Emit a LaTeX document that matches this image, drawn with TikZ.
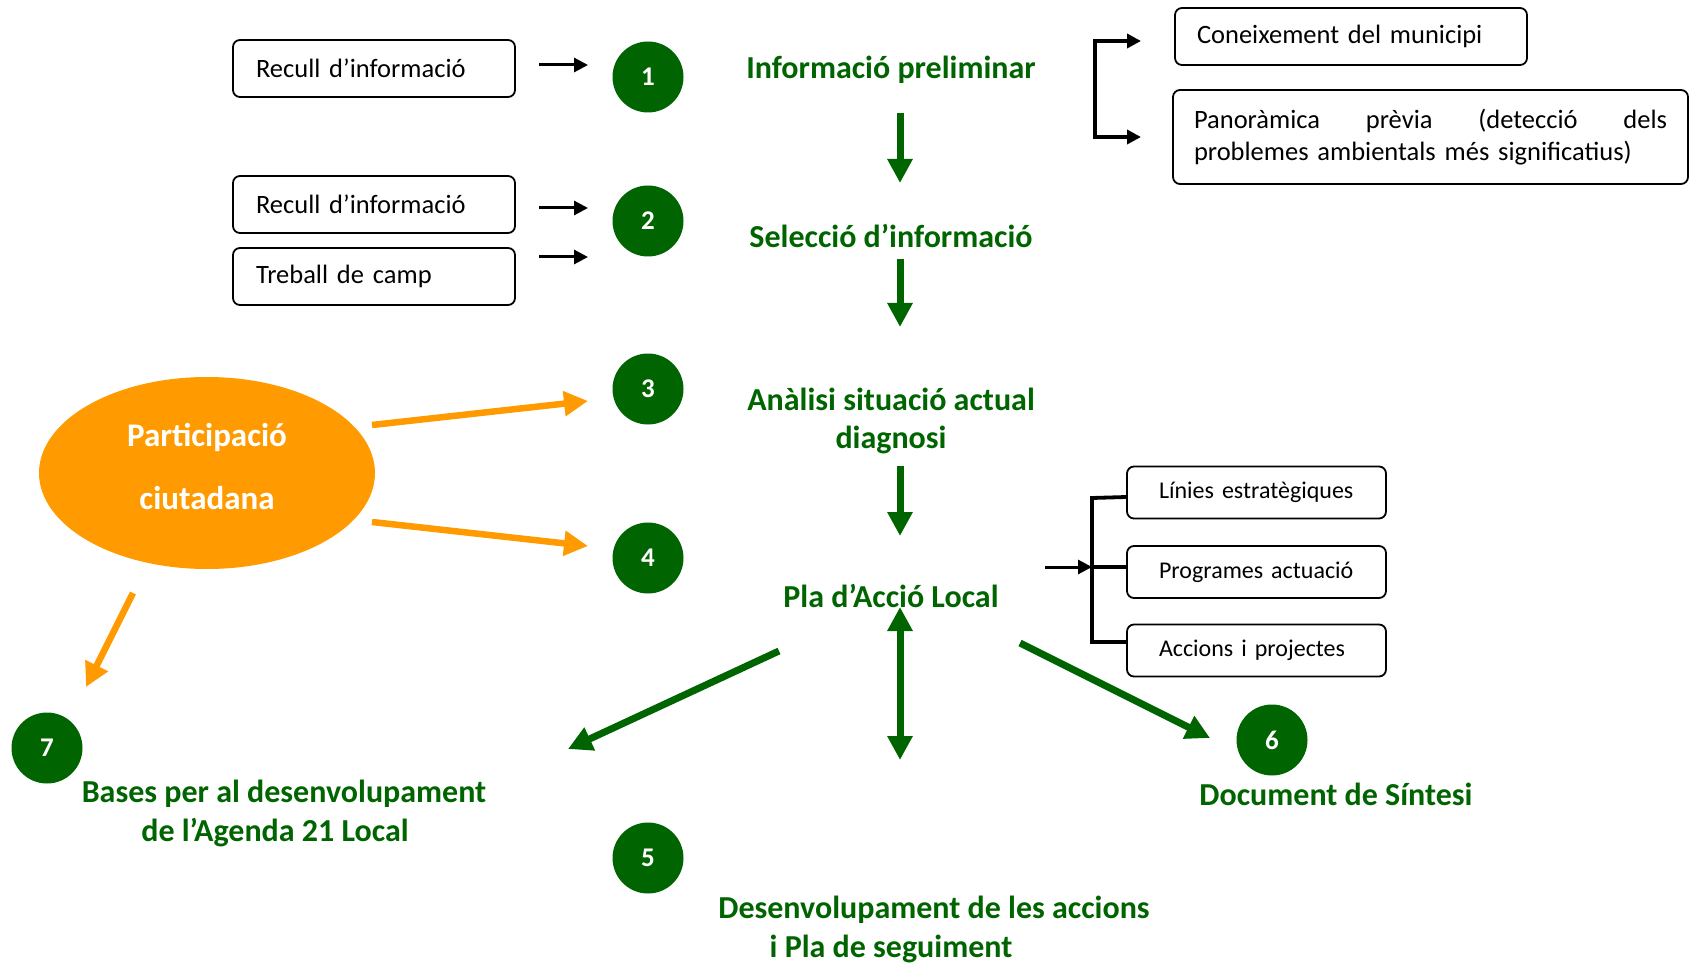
\documentclass[tikz,border=0pt]{standalone}
\usepackage{fontspec}
\setmainfont{Carlito}
\usetikzlibrary{arrows.meta,shapes.geometric}
\definecolor{dgreen}{RGB}{0,100,0}
\definecolor{orng}{RGB}{255,155,0}
\begin{document}
\begin{tikzpicture}[x=1pt,y=-1pt,
  boxA/.style={draw, line width=1.8pt, rounded corners=7pt, inner xsep=23pt, inner ysep=0pt,
     text width=236pt, minimum height=57pt, align=left, font=\fontsize{26.5}{32}\selectfont},
  boxR/.style={draw, line width=1.8pt, rounded corners=7pt, inner xsep=32pt, inner ysep=0pt,
     text width=195pt, minimum height=52pt, align=left, font=\fontsize{24}{29}\selectfont},
  circ/.style={circle, fill=dgreen, minimum size=71pt, inner sep=0pt, text=white,
     font=\fontsize{27}{32}\selectfont\bfseries},
  ttl/.style={text=dgreen, inner sep=0pt, font=\fontsize{32}{38}\selectfont\bfseries},
  barrow/.style={line width=3pt, -{Triangle[length=14pt,width=14pt]}},
  bline/.style={line width=3.8pt},
  garrow/.style={draw=dgreen, line width=7pt, -{Triangle[length=24pt,width=24pt]}},
  gdarrow/.style={draw=dgreen, line width=7pt, {Triangle[length=24pt,width=24pt]}-{Triangle[length=24pt,width=24pt]}},
  oarrow/.style={draw=orng, line width=6.5pt, -{Triangle[length=24pt,width=24pt]}}
]
\useasboundingbox (0,0) rectangle (1691,965);

% left boxes
\node[boxA] (a1) at (374,68.5) {Recull d’informació};
\node[boxA] (a2) at (374,204.5) {Recull d’informació};
\node[boxA] (a3) at (374,276.5) {Treball de camp};

% circles
\node[circ] (c1) at (648,77) {1};
\node[circ] (c2) at (648,221) {2};
\node[circ] (c3) at (648,389) {3};
\node[circ] (c4) at (648,558) {4};
\node[circ] (c5) at (648,858) {5};
\node[circ] (c6) at (1272,740) {6};
\node[circ] (c7) at (47,748) {7};

% titles
\node[ttl] (t1) at (891,70) {Informació preliminar};
\node[ttl] (t2) at (891,236) {Selecció d’informació};
\node[ttl, align=center] (t3) at (891,421) {Anàlisi situació actual\\diagnosi};
\node[ttl] (t4) at (891,596) {Pla d’Acció Local};
\node[ttl] (t6) at (1336,794) {Document de Síntesi};
\node[ttl] (t7a) at (284,794) {Bases per al desenvolupament};
\node[ttl] (t7b) at (275,833) {de l’Agenda 21 Local};
\node[ttl] (t5a) at (934,910) {Desenvolupament de les accions};
\node[ttl] (t5b) at (891,949) {i Pla de seguiment};

% top right boxes
\node[draw, line width=1.8pt, rounded corners=7pt, inner xsep=22pt, inner ysep=0pt,
  minimum width=352pt, minimum height=57pt, align=left, text width=308pt,
  font=\fontsize{26.5}{32}\selectfont] (k1) at (1351,36.5) {Coneixement del municipi};
\node[draw, line width=1.8pt, rounded corners=7pt, inner xsep=21pt, inner ysep=0pt,
  minimum height=94pt, align=left, text width=473pt,
  font=\fontsize{26.5}{32}\selectfont] (k2) at (1430.5,137)
  {Panoràmica\hfill prèvia\hfill (detecció\hfill dels\\problemes ambientals més significatius)};

% right middle boxes
\node[boxR] (r1) at (1256.5,492.5) {Línies estratègiques};
\node[boxR] (r2) at (1256.5,572) {Programes actuació};
\node[boxR] (r3) at (1256.5,650.5) {Accions i projectes};

% ellipse
\node[ellipse, fill=orng, minimum width=336pt, minimum height=192pt] (pc) at (207,473) {};
\node[text=white, align=center, inner sep=0pt, font=\fontsize{33}{63}\selectfont\bfseries]
  (pct) at (207,467) {Participació\\ciutadana};

% black arrows left
\coordinate (b1s) at (539,65);  \coordinate (b1e) at (588,65);
\coordinate (b2s) at (539,208); \coordinate (b2e) at (588,208);
\coordinate (b3s) at (539,257); \coordinate (b3e) at (588,257);
\draw[barrow] (b1s) -- (b1e);
\draw[barrow] (b2s) -- (b2e);
\draw[barrow] (b3s) -- (b3e);

% top right bracket
\coordinate (k1a) at (1141,41);
\coordinate (k2a) at (1141,137);
\draw[line width=3.6pt, {Triangle[length=14pt,width=14pt]}-{Triangle[length=14pt,width=14pt]}]
  (k1a) -- (1095,41) -- (1095,137) -- (k2a);

% middle right bracket
\coordinate (m0) at (1045,567);
\coordinate (m1) at (1092,567);
\draw[bline] (r1.west |- 0,497) -- (1092,498) -- (1092,642) -- (r3.west |- 0,642);
\draw[bline] (m1) -- (r2.west |- m1);
\draw[barrow] (m0) -- (m1);

% green arrows
\coordinate (g1s) at (900,113); \coordinate (g1e) at (900,183);
\coordinate (g2s) at (900,259); \coordinate (g2e) at (900,327);
\coordinate (g3s) at (900,466); \coordinate (g3e) at (900,536);
\coordinate (g4s) at (900,607); \coordinate (g4e) at (900,760);
\coordinate (g5s) at (779,651); \coordinate (g5e) at (568,749);
\coordinate (g6s) at (1020,643); \coordinate (g6e) at (1210,738);
\draw[garrow] (g1s) -- (g1e);
\draw[garrow] (g2s) -- (g2e);
\draw[garrow] (g3s) -- (g3e);
\draw[gdarrow] (g4s) -- (g4e);
\draw[garrow] (g5s) -- (g5e);
\draw[garrow] (g6s) -- (g6e);

% orange arrows
\coordinate (o1s) at (372,425); \coordinate (o1e) at (588,401);
\coordinate (o2s) at (372,522); \coordinate (o2e) at (588,546);
\coordinate (o3s) at (133,593); \coordinate (o3e) at (86,687);
\draw[oarrow] (o1s) -- (o1e);
\draw[oarrow] (o2s) -- (o2e);
\draw[oarrow] (o3s) -- (o3e);
\end{tikzpicture}
\end{document}
